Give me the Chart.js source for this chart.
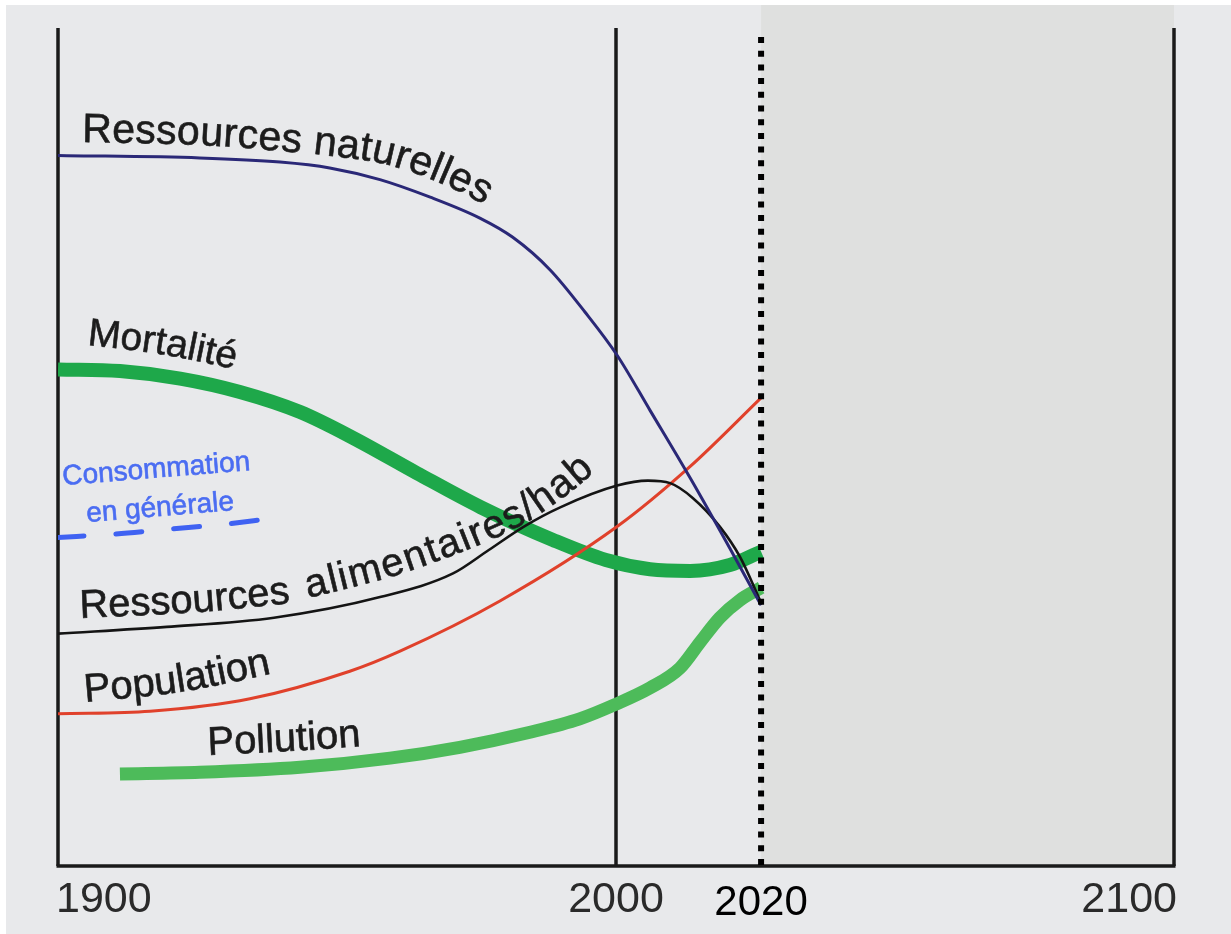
<!DOCTYPE html>
<html lang="fr">
<head>
<meta charset="utf-8">
<title>Ressources, population, pollution 1900-2100</title>
<script src="https://cdn.jsdelivr.net/npm/chart.js@4.4.1/dist/chart.umd.min.js"></script>
<style>
  html, body { margin: 0; padding: 0; background: #fff; }
  #wrap { width: 1231px; height: 934px; }
</style>
</head>
<body>
<div id="wrap"><canvas id="chart" width="1231" height="934"></canvas></div>
<script>
// x axis in years. On the picture the "2020" mark is drawn where 2026 would fall
const tickYears = [1900, 2000, 2026, 2100];
const tickLabels = ['1900', '2000', '2020', '2100'];
const NOW = 2026;

const natYears  = [1900, 1925.4, 1939.8, 1948.7, 1957.7, 1966.7, 1975.6, 1981.5, 1988.2, 1994.4, 2000.2, 2006.1, 2013.3, 2020.4, 2026];
const natValues = [85.0, 84.7, 84.2, 83.5, 82.1, 80.0, 77.5, 75.2, 71.3, 66.3, 61.1, 54.5, 46.4, 38.0, 31.2];

const mortYears  = [1900, 1911.1, 1921.9, 1932.6, 1943.4, 1952.9, 1964.3, 1975.8, 1988.7, 1998.2, 2006.1, 2013.3, 2020.4, 2026];
const mortValues = [59.4, 59.2, 58.3, 56.7, 54.3, 51.2, 47.0, 42.9, 39.0, 36.6, 35.5, 35.3, 36.0, 37.6];

const aliYears  = [1900, 1919.5, 1938.7, 1957.9, 1970.8, 1977.2, 1983.5, 1990, 2000.2, 2005.7, 2009.7, 2013.8, 2018.6, 2022.2, 2026];
const aliValues = [27.8, 28.6, 29.7, 32.2, 35.0, 37.8, 40.6, 42.9, 45.5, 46.1, 45.8, 44.0, 40.6, 37.0, 31.5];

const popYears  = [1900, 1916.5, 1934.4, 1952.3, 1961.3, 1979.2, 2000.2, 2013.3, 2026];
const popValues = [18.2, 18.5, 20.0, 23.3, 25.7, 31.7, 40.6, 47.8, 56.0];

const polYears  = [1911.1, 1925.4, 1943.4, 1959.5, 1972, 1984.6, 1993.5, 1999.8, 2006.1, 2011.5, 2015.1, 2018.6, 2022.2, 2026];
const polValues = [11.0, 11.2, 11.8, 12.9, 14.2, 16.0, 17.6, 19.3, 21.3, 23.7, 26.8, 29.7, 31.8, 33.3];

const consYears  = [1900, 1910, 1920, 1930, 1937.6];
const consValues = [39.3, 39.7, 40.3, 40.9, 41.5];

function pts(xs, ys) {
    return xs.map((x, i) => ({ x: x, y: ys[i] }));
}

// smooth a few guide points so rotated letters follow a curve
function catmull(points, steps) {
    const out = [];
    for (let i = 0; i < points.length - 1; i++) {
        const p0 = points[i - 1] || points[i], p1 = points[i], p2 = points[i + 1], p3 = points[i + 2] || points[i + 1];
        for (let s = 0; s < steps; s++) {
            const t = s / steps, t2 = t * t, t3 = t2 * t;
            const f = (a, b, c, d) => 0.5 * (2 * b + (-a + c) * t + (2 * a - 5 * b + 4 * c - d) * t2 + (-a + 3 * b - 3 * c + d) * t3);
            out.push([f(p0[0], p1[0], p2[0], p3[0]), f(p0[1], p1[1], p2[1], p3[1])]);
        }
    }
    out.push(points[points.length - 1]);
    return out;
}

function textOnPath(ctx, text, guide, font, color, spacing) {
    const poly = catmull(guide, 24);
    const cum = [0];
    for (let i = 1; i < poly.length; i++) {
        cum.push(cum[i - 1] + Math.hypot(poly[i][0] - poly[i - 1][0], poly[i][1] - poly[i - 1][1]));
    }
    ctx.save();
    ctx.font = font;
    ctx.fillStyle = color;
    ctx.strokeStyle = color;
    ctx.lineWidth = 0.6;
    ctx.textAlign = 'center';
    ctx.textBaseline = 'alphabetic';
    let s = 0;
    for (const ch of text) {
        const w = ctx.measureText(ch).width;
        const m = s + w / 2;
        let i = 1;
        while (i < cum.length - 1 && cum[i] < m) i++;
        const seg = (cum[i] - cum[i - 1]) || 1;
        const f = (m - cum[i - 1]) / seg;
        const a = poly[i - 1], b = poly[i];
        ctx.save();
        ctx.translate(a[0] + (b[0] - a[0]) * f, a[1] + (b[1] - a[1]) * f);
        ctx.rotate(Math.atan2(b[1] - a[1], b[0] - a[0]));
        ctx.fillText(ch, 0, 0);
        ctx.strokeText(ch, 0, 0);
        ctx.restore();
        s += w + (spacing || 0);
    }
    ctx.restore();
}

const LABEL_FONT = '"Liberation Sans", Arial, sans-serif';
const curveLabels = [
    { text: 'Ressources naturelles', size: 41, color: '#1c1c1c', spacing: 0.3,
      path: [[82, 142], [200, 145], [293, 152], [340, 157], [380, 163], [420, 175], [460, 192], [500, 214]] },
    { text: 'Mortalité', size: 39, color: '#1c1c1c', path: [[87, 345], [160, 354], [240, 370]] },
    { text: 'Ressources ', size: 40, color: '#1c1c1c',
      path: [[80, 618], [200, 612], [300, 602]] },
    { text: 'alimentaires/hab', size: 40, color: '#1c1c1c', spacing: 1.6,
      path: [[308, 598], [400, 574], [500, 536], [560, 500], [610, 458]] },
    { text: 'Population', size: 40, color: '#1c1c1c', path: [[85, 702], [180, 692], [275, 673]] },
    { text: 'Pollution', size: 40, color: '#1c1c1c', path: [[208, 755], [290, 751], [365, 746]] },
    { text: 'Consommation', size: 28, color: '#4b6df2', path: [[63, 485], [252, 470]] },
    { text: 'en générale', size: 28, color: '#4b6df2', path: [[87, 522], [235, 510]] },
];

const framePlugin = {
    id: 'frame',
    beforeDraw(chart) {
        const { ctx, chartArea: a, scales: { x } } = chart;
        ctx.save();
        ctx.fillStyle = '#ffffff';
        ctx.fillRect(0, 0, chart.width, chart.height);
        ctx.fillStyle = '#e8e9eb';
        ctx.fillRect(6, 5, chart.width - 6, chart.height - 5);
        const nx = x.getPixelForValue(NOW);
        ctx.fillStyle = '#dfe0df';
        ctx.fillRect(nx, 5, x.getPixelForValue(2100) - nx, a.bottom - 5);
        ctx.restore();
    },
    beforeDatasetsDraw(chart) {
        const { ctx, chartArea: a, scales: { x } } = chart;
        ctx.save();
        ctx.strokeStyle = '#1a1a1a';
        ctx.lineWidth = 3.5;
        for (const yr of tickYears) {
            if (yr === NOW) continue;
            const px = x.getPixelForValue(yr);
            ctx.beginPath();
            ctx.moveTo(px, a.top - 2);
            ctx.lineTo(px, a.bottom);
            ctx.stroke();
        }
        ctx.beginPath();
        ctx.moveTo(x.getPixelForValue(1900) - 1.5, a.bottom);
        ctx.lineTo(x.getPixelForValue(2100) + 1.5, a.bottom);
        ctx.stroke();
        ctx.restore();
    },
    afterDatasetsDraw(chart) {
        const { ctx, chartArea: a, scales: { x } } = chart;
        ctx.save();
        // dotted "today" line
        const nx = x.getPixelForValue(NOW);
        ctx.strokeStyle = '#000';
        ctx.lineWidth = 6;
        ctx.setLineDash([6, 7.7]);
        ctx.beginPath();
        ctx.moveTo(nx, a.top + 7);
        ctx.lineTo(nx, a.bottom);
        ctx.stroke();
        ctx.setLineDash([]);

        for (const l of curveLabels) {
            textOnPath(ctx, l.text, l.path, l.size + 'px ' + LABEL_FONT, l.color, l.spacing);
        }

        // axis years
        const aligns = ['left', 'center', 'center', 'right'];
        const shifts = [-2, 0, 0, 3];
        tickYears.forEach((yr, i) => {
            const isNow = yr === NOW;
            ctx.font = (isNow ? 42 : 43) + 'px ' + LABEL_FONT;
            ctx.fillStyle = isNow ? '#000000' : '#2a2a2a';
            ctx.textAlign = aligns[i];
            ctx.textBaseline = 'alphabetic';
            ctx.fillText(tickLabels[i], x.getPixelForValue(yr) + shifts[i], isNow ? 915 : 912);
        });
        ctx.restore();
    }
};

const line = (label, data, color, width, extra) => Object.assign({
    label: label,
    data: data,
    borderColor: color,
    borderWidth: width,
    pointRadius: 0,
    fill: false,
    cubicInterpolationMode: 'monotone',
}, extra || {});

new Chart(document.getElementById('chart'), {
    type: 'line',
    data: {
        datasets: [
            line('Ressources naturelles', pts(natYears, natValues), '#2a2877', 3),
            line('Ressources alimentaires/hab', pts(aliYears, aliValues), '#141414', 2.6),
            line('Population', pts(popYears, popValues), '#e0412b', 3),
            line('Consommation en générale', pts(consYears, consValues), '#3f62f2', 5,
                 { borderDash: [26, 32], borderCapStyle: 'round' }),
            line('Mortalité', pts(mortYears, mortValues), '#1ea84a', 14),
            line('Pollution', pts(polYears, polValues), '#4dbb5a', 13),
        ]
    },
    options: {
        responsive: false,
        animation: false,
        layout: { padding: { left: 58, right: 57, top: 30, bottom: 68 } },
        plugins: { legend: { display: false }, tooltip: { enabled: false } },
        scales: {
            x: { type: 'linear', min: 1900, max: 2100, display: false },
            y: { min: 0, max: 100, display: false },
        },
    },
    plugins: [framePlugin],
});
</script>
</body>
</html>
